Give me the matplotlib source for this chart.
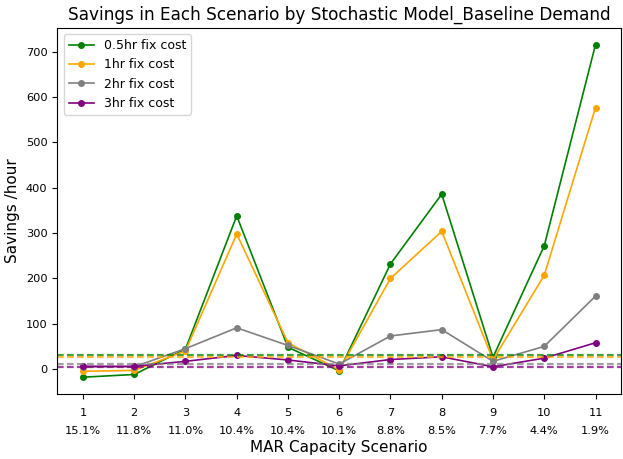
import matplotlib
matplotlib.use('Agg')
import matplotlib.pyplot as plt
import numpy as np

scenarios = list(range(1, 12))
mar_share = ['15.1%', '11.8%', '11.0%', '10.4%', '10.4%', '10.1%',
             '8.8%', '8.5%', '7.7%', '4.4%', '1.9%']

labels = ['0.5hr fix cost', '1hr fix cost', '2hr fix cost', '3hr fix cost']
colors = ['green', 'orange', 'gray', 'purple']

save_05hr = [-18, -12, 44, 338, 48, -4, 232, 386, 26, 272, 716]
save_1hr = [-5, -3, 40, 298, 58, -2, 200, 304, 20, 207, 577]
save_2hr = [5, 5, 45, 91, 52, 11, 73, 87, 17, 50, 161]
save_3hr = [6, 6, 17, 30, 20, 7, 21, 27, 5, 24, 58]

# dashed reference levels, one per fix cost
ref_levels = [31, 27, 12, 5]

series = [save_05hr, save_1hr, save_2hr, save_3hr]

fig = plt.figure(figsize=(6.23, 4.59), dpi=100)
ax = fig.add_axes([0.092, 0.142, 0.905, 0.797])

for vals, color, name in zip(series, colors, labels):
    ax.plot(scenarios, vals, marker='o', markersize=4, linewidth=1.2,
            color=color, label=name)

for level, color in zip(ref_levels, colors):
    ax.axhline(level, color=color, linestyle='--', linewidth=1.6, alpha=0.75,
               dashes=(3, 1.5))

ax.set_xticks(scenarios)
ax.set_xticklabels([f'{s}\n{p}' for s, p in zip(scenarios, mar_share)], fontsize=8.2)
for lbl in ax.get_xticklabels():
    lbl.set_linespacing(1.9)
ax.tick_params(axis='x', pad=7)
ax.tick_params(axis='y', labelsize=8.2)
ax.set_xlabel('MAR Capacity Scenario', fontsize=11, labelpad=3)
ax.set_ylabel('Savings /hour', fontsize=11)
ax.set_title('Savings in Each Scenario by Stochastic Model_Baseline Demand', fontsize=12.2)
ax.legend(loc='upper left', fontsize=9)

fig.savefig('out.png', dpi=100)
